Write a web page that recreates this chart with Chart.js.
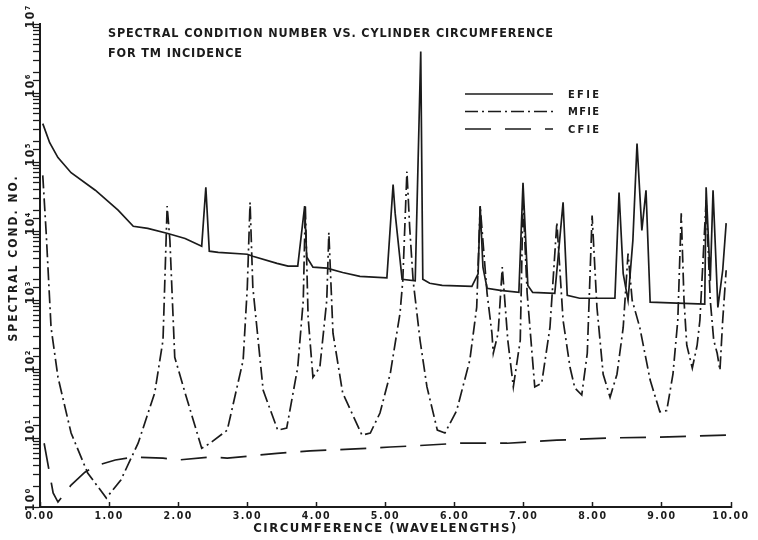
<!DOCTYPE html>
<html>
<head>
<meta charset="utf-8">
<script src="https://cdn.jsdelivr.net/npm/chart.js@4/dist/chart.umd.min.js"></script>
<style>
  html, body { margin: 0; padding: 0; background: #fff; }
</style>
</head>
<body>
<canvas id="condChart" width="758" height="540"></canvas>
<script>
// circumference in wavelengths / spectral condition number
const efieX = [0.04, 0.14, 0.26, 0.45, 0.80, 1.13, 1.35, 1.56, 1.85, 2.10, 2.34, 2.40, 2.45, 2.58, 3.00, 3.08,
  3.43, 3.59, 3.73, 3.83, 3.86, 3.95, 4.15, 4.38, 4.63, 5.02, 5.11, 5.14, 5.24, 5.43, 5.51, 5.54, 5.64, 5.82,
  6.25, 6.34, 6.37, 6.41, 6.47, 6.66, 6.93, 6.99, 7.06, 7.13, 7.45, 7.57, 7.63, 7.81, 8.32, 8.38, 8.44, 8.51,
  8.58, 8.64, 8.71, 8.77, 8.83, 9.22, 9.62, 9.64, 9.70, 9.74, 9.81, 9.88, 9.93];
const efieY = [3.6e5, 1.9e5, 1.16e5, 7.0e4, 3.9e4, 2.0e4, 1.17e4, 1.09e4, 9.2e3, 7.8e3, 6.0e3, 4.3e4, 5.1e3, 4.9e3, 4.6e3, 4.3e3,
  3.4e3, 3.1e3, 3.1e3, 2.3e4, 4.2e3, 3.0e3, 2.9e3, 2.5e3, 2.2e3, 2.1e3, 4.7e4, 1.8e4, 2.0e3, 1.9e3, 4.0e6, 2.0e3, 1.75e3, 1.63e3,
  1.58e3, 2.4e3, 2.3e4, 3.0e3, 1.48e3, 1.38e3, 1.29e3, 5.0e4, 1.63e3, 1.29e3, 1.25e3, 2.6e4, 1.17e3, 1.06e3, 1.06e3, 3.6e4, 2.4e3, 990,
  7.3e3, 1.85e5, 1.02e4, 3.9e4, 930, 900, 870, 4.3e4, 1.9e3, 3.9e4, 780, 2.7e3, 1.3e4];

const mfieX = [0.04, 0.09, 0.16, 0.26, 0.45, 0.69, 0.96, 1.17, 1.42, 1.66, 1.78, 1.84, 1.88, 1.95, 2.10, 2.34, 2.46,
  2.71, 2.94, 3.00, 3.04, 3.08, 3.23, 3.44, 3.57, 3.73, 3.81, 3.84, 3.88, 3.95, 4.05, 4.15, 4.18, 4.24, 4.38, 4.66,
  4.78, 4.92, 5.07, 5.21, 5.25, 5.31, 5.35, 5.40, 5.50, 5.60, 5.75, 5.86, 6.03, 6.22, 6.32, 6.37, 6.47, 6.54, 6.56,
  6.63, 6.69, 6.77, 6.85, 6.95, 6.99, 7.05, 7.16, 7.26, 7.38, 7.48, 7.57, 7.67, 7.74, 7.84, 7.92, 7.99, 8.06, 8.15,
  8.25, 8.35, 8.44, 8.51, 8.57, 8.68, 8.83, 8.97, 9.07, 9.16, 9.23, 9.28, 9.32, 9.36, 9.44, 9.51, 9.55, 9.64, 9.70,
  9.75, 9.80, 9.84, 9.88, 9.93];
const mfieY = [6.4e4, 9.2e3, 400, 76, 11.8, 3.1, 1.35, 2.46, 8.4, 45, 261, 2.3e4, 7.3e3, 148, 45, 7.1, 8.4,
  13, 134, 1.53e3, 2.6e4, 1.53e3, 49, 13, 13.9, 106, 990, 2.3e4, 562, 76, 106, 990, 9.5e3, 330, 45, 11,
  11.8, 23, 87, 642, 1.9e3, 7.3e4, 1.13e4, 1.9e3, 261, 55, 13, 11.8, 25, 134, 784, 2.3e4, 1.25e3, 330, 169,
  330, 3.0e3, 261, 55, 261, 2.8e4, 1.25e3, 55, 62, 400, 1.33e4, 508, 106, 53, 42, 169, 1.68e4, 784, 84,
  39, 84, 400, 4.7e3, 990, 400, 69, 24, 25, 84, 508, 1.8e4, 990, 221, 103, 221, 508, 2.8e4, 990,
  261, 169, 96, 508, 2.7e3];

const cfieX = [0.06, 0.19, 0.26, 0.45, 0.65, 0.84, 1.09, 1.35, 1.78, 2.00, 2.47, 2.71, 3.43, 3.91, 4.49, 5.07,
  5.31, 6.08, 6.76, 7.48, 8.21, 8.93, 9.94];
const cfieY = [8.4, 1.6, 1.18, 2.08, 3.2, 4.05, 4.8, 5.3, 5.1, 4.8, 5.3, 5.1, 6.0, 6.5, 6.9, 7.4,
  7.6, 8.4, 8.4, 9.3, 10, 10.3, 11];

const titleLines = ['SPECTRAL CONDITION NUMBER VS. CYLINDER CIRCUMFERENCE', 'FOR TM INCIDENCE'];
const xTitle = 'CIRCUMFERENCE (WAVELENGTHS)';
const yTitle = 'SPECTRAL COND. NO.';
const superDigits = '⁰¹²³⁴⁵⁶⁷⁸⁹';

const INK = '#1b1b1b';
const FONT = '"DejaVu Sans Condensed", "DejaVu Sans", sans-serif';

const pair = (xs, ys) => xs.map((x, i) => ({ x: x, y: ys[i] }));

// letter spacing that stretches a string to the width it has on the plot
function fitSpacing(ctx, text, width) {
  ctx.letterSpacing = '0px';
  const w = ctx.measureText(text).width;
  return Math.max(0, (width - w) / (text.length - 1));
}

const plotText = {
  id: 'plotText',
  beforeDraw(chart) {
    chart.ctx.letterSpacing = '1.5px';
  },
  afterDraw(chart) {
    const { ctx, chartArea } = chart;
    ctx.save();
    ctx.fillStyle = INK;
    ctx.textAlign = 'left';
    ctx.textBaseline = 'middle';

    // heading inside the frame
    ctx.font = 'bold 12.5px ' + FONT;
    const sp = fitSpacing(ctx, titleLines[0], 445);
    ctx.letterSpacing = sp + 'px';
    ctx.fillText(titleLines[0], chartArea.left + 68, 34);
    ctx.fillText(titleLines[1], chartArea.left + 68, 54);

    // y axis title
    ctx.save();
    ctx.translate(14, 258);
    ctx.rotate(-Math.PI / 2);
    ctx.textAlign = 'center';
    ctx.font = 'bold 12px ' + FONT;
    ctx.letterSpacing = fitSpacing(ctx, yTitle, 165) + 'px';
    ctx.fillText(yTitle, 0, 0);
    ctx.restore();

    // legend
    ctx.font = 'bold 11px ' + FONT;
    chart.data.datasets.forEach((ds, i) => {
      const y = chartArea.top + 70 + i * 17.5;
      ctx.beginPath();
      ctx.setLineDash(ds.borderDash);
      ctx.lineWidth = ds.borderWidth;
      ctx.strokeStyle = ds.borderColor;
      ctx.moveTo(chartArea.left + 425, y);
      ctx.lineTo(chartArea.left + 513, y);
      ctx.stroke();
      ctx.setLineDash([]);
      ctx.letterSpacing = fitSpacing(ctx, ds.label, 31) + 'px';
      ctx.fillText(ds.label, chartArea.left + 528, y + 1);
    });
    ctx.restore();
  }
};

const ctx = document.getElementById('condChart').getContext('2d');
const condChart = new Chart(ctx, {
  type: 'line',
  data: {
    datasets: [
      { label: 'EFIE', data: pair(efieX, efieY), borderColor: INK, borderWidth: 1.7, borderDash: [] },
      { label: 'MFIE', data: pair(mfieX, mfieY), borderColor: INK, borderWidth: 1.7, borderDash: [13, 4, 2, 4] },
      { label: 'CFIE', data: pair(cfieX, cfieY), borderColor: INK, borderWidth: 1.7, borderDash: [26, 14] }
    ]
  },
  options: {
    responsive: false,
    animation: false,
    elements: { point: { radius: 0 }, line: { tension: 0 } },
    layout: { padding: { top: 24, right: 27, left: 0, bottom: 0 } },
    plugins: {
      legend: { display: false },
      tooltip: { enabled: false }
    },
    scales: {
      x: {
        type: 'linear',
        min: 0,
        max: 10,
        ticks: {
          stepSize: 1,
          autoSkip: false,
          maxRotation: 0,
          padding: 8,
          color: INK,
          font: { family: FONT, size: 10.5, weight: 'bold' },
          callback: (v) => v.toFixed(2)
        },
        grid: { drawOnChartArea: false, tickLength: -5, color: INK, tickWidth: 1.5 },
        border: { color: INK, width: 2 },
        title: {
          display: true,
          text: xTitle,
          color: INK,
          font: { family: FONT, size: 13, weight: 'bold' },
          padding: { top: 0, bottom: 4 }
        },
        afterFit: (scale) => { scale.height = 33; }
      },
      y: {
        type: 'logarithmic',
        min: 1,
        max: 1e7,
        ticks: {
          autoSkip: false,
          minRotation: 90,
          maxRotation: 90,
          labelOffset: -20,
          padding: 2,
          color: INK,
          font: { family: FONT, size: 12, weight: 'bold' },
          callback: (v) => {
            const p = Math.round(Math.log10(v));
            return Math.abs(v - Math.pow(10, p)) < 1e-6 * v ? '10' + superDigits[p] : '';
          }
        },
        grid: { drawOnChartArea: false, tickLength: 7, color: INK, tickWidth: 1.3 },
        border: { color: INK, width: 2 },
        title: { display: false },
        afterFit: (scale) => { scale.width = 40; }
      }
    }
  },
  plugins: [plotText]
});
</script>
</body>
</html>
